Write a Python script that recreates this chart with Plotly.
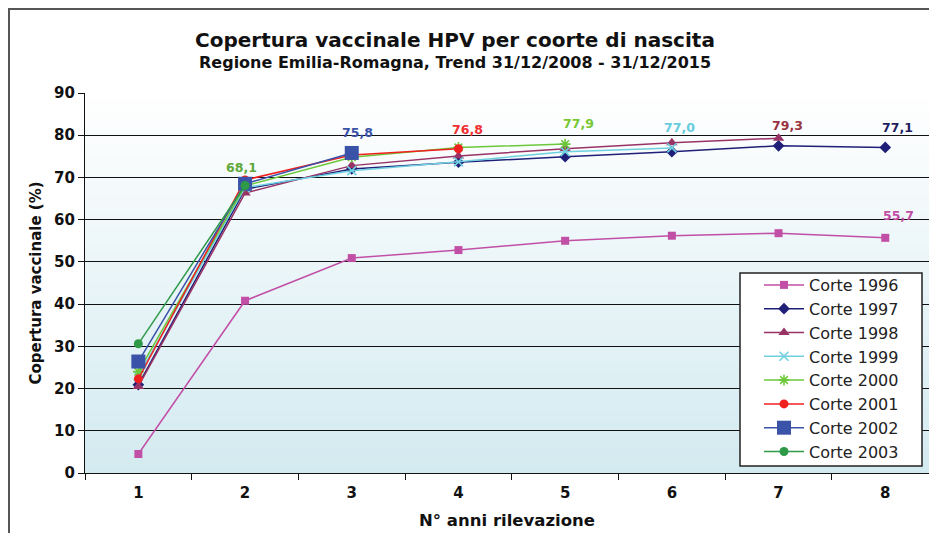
import plotly.graph_objects as go

# ---- data ----
anni = [1, 2, 3, 4, 5, 6, 7, 8]
x_ticklabels = ["1", "2", "3", "4", "5", "6", "7", "8"]
series_names = ["Corte 1996", "Corte 1997", "Corte 1998", "Corte 1999",
                "Corte 2000", "Corte 2001", "Corte 2002", "Corte 2003"]
c1996 = [4.5, 40.8, 50.9, 52.8, 55.0, 56.2, 56.8, 55.7]
c1997 = [20.9, 67.2, 72.0, 73.6, 74.9, 76.1, 77.5, 77.1]
c1998 = [20.5, 66.3, 72.8, 75.1, 76.8, 78.2, 79.3]
c1999 = [23.0, 67.6, 71.6, 73.7, 76.1, 77.0]
c2000 = [24.0, 68.0, 74.8, 77.1, 77.9]
c2001 = [22.3, 69.4, 75.3, 76.8]
c2002 = [26.4, 68.5, 75.8]
c2003 = [30.6, 68.1]
values = [c1996, c1997, c1998, c1999, c2000, c2001, c2002, c2003]

# ---- styles ----
colors = ["#C24FA6", "#1F1F78", "#993366", "#6FD0E0",
          "#6CC83A", "#F02020", "#3A52A8", "#2E9A48"]
label_colors = ["#C24FA6", "#1F1F60", "#993340", "#66CCDD",
                "#77C832", "#F03030", "#3A52A8", "#5EA83A"]
label_dx = [13, 12, 9, 8, 13, 9, 6, -4]
label_dy = [22, 20, 13, 20, 21, 19, 20, 18]
symbols = ["square", "diamond", "triangle-up", "x-thin-open",
           "asterisk-open", "circle", "square", "circle"]
sizes = [8, 9, 10, 9, 9, 9, 14, 9]

FONT = "DejaVu Sans, Verdana, sans-serif"

fig = go.Figure()
for name, vals, col, sym, sz in zip(series_names, values, colors, symbols, sizes):
    fig.add_trace(go.Scatter(
        x=anni[:len(vals)], y=vals, name=name, mode="lines+markers",
        line=dict(color=col, width=1.5),
        marker=dict(symbol=sym, size=sz, color=col,
                    line=dict(color=col, width=1.6 if "open" in sym else 0)),
        legendgroup=name,
    ))

# data labels on last point of each series
ann = []
for vals, lc, dx, dy in zip(values, label_colors, label_dx, label_dy):
    v = vals[-1]
    ann.append(dict(x=anni[len(vals) - 1], y=v, xref="x", yref="y",
                    text=f"{v:.1f}".replace(".", ","), showarrow=False,
                    xanchor="center", yanchor="middle",
                    xshift=dx, yshift=dy,
                    font=dict(family=FONT, size=12.5, color=lc, weight="bold")))

W, H = 929, 533
L, R, T, B = 85, 0, 93, 60
pw, ph = W - L - R, H - T - B
def px(xp): return (xp - L) / pw
def py(yp): return (H - B - yp) / ph

ann.append(dict(x=px(455), y=py(40), xref="paper", yref="paper",
                xanchor="center", yanchor="middle",
                text="Copertura vaccinale HPV per coorte di nascita", showarrow=False,
                font=dict(family=FONT, size=20, color="#111111", weight="bold")))
ann.append(dict(x=px(455), y=py(62), xref="paper", yref="paper",
                xanchor="center", yanchor="middle",
                text="Regione Emilia-Romagna, Trend 31/12/2008 - 31/12/2015", showarrow=False,
                font=dict(family=FONT, size=16, color="#111111", weight="bold")))

# gradient background of the plot area
shapes = []
N = 60
top = (255, 255, 255)
bot = (211, 234, 240)
for i in range(N):
    t = (i + 0.5) / N
    c = tuple(round(top[k] + (bot[k] - top[k]) * t) for k in range(3))
    shapes.append(dict(type="rect", xref="paper", yref="paper", layer="below",
                       x0=0, x1=1, y0=1 - (i + 1) / N, y1=1 - i / N + 0.001,
                       line=dict(width=0), fillcolor=f"rgb{c}"))
# outer frame (left and top)
shapes.append(dict(type="line", xref="paper", yref="paper", x0=px(9), x1=px(9),
                   y0=py(9), y1=py(540), line=dict(color="#555555", width=2)))
shapes.append(dict(type="line", xref="paper", yref="paper", x0=px(8), x1=px(935),
                   y0=py(9), y1=py(9), line=dict(color="#555555", width=2)))
# legend box
shapes.append(dict(type="rect", xref="paper", yref="paper", layer="above",
                   x0=px(740), x1=px(922), y0=py(466), y1=py(273),
                   fillcolor="white", line=dict(color="#222222", width=1.5)))

fig.update_layout(
    width=W, height=H,
    margin=dict(l=L, r=R, t=T, b=B),
    paper_bgcolor="white", plot_bgcolor="rgba(0,0,0,0)",
    font=dict(family=FONT, color="#111111"),
    annotations=ann, shapes=shapes,
    showlegend=True,
    legend=dict(x=px(759), y=py(268), xanchor="left", yanchor="top",
                bgcolor="rgba(0,0,0,0)", borderwidth=0,
                font=dict(family=FONT, size=16, color="#222222"),
                tracegroupgap=0, itemwidth=40),
    xaxis=dict(range=[0.5, 0.5 + pw / 106.7], tickmode="array", tickvals=anni,
               ticktext=x_ticklabels, ticks="", showgrid=False,
               showline=True, linecolor="#111111", linewidth=1.2,
               ticklabelstandoff=6,
               tickfont=dict(family=FONT, size=15, color="#111111", weight="bold"),
               minor=dict(tick0=0.5, dtick=1, ticks="outside", ticklen=6,
                          tickcolor="#111111", tickwidth=1, showgrid=False),
               title=dict(text="N° anni rilevazione", standoff=13,
                          font=dict(family=FONT, size=16.5, color="#111111", weight="bold")),
               zeroline=False, fixedrange=True),
    yaxis=dict(range=[0, 90], tickmode="array", tickvals=list(range(0, 91, 10)),
               showgrid=True, gridcolor="#111111", gridwidth=1,
               showline=True, linecolor="#111111", linewidth=1.2,
               ticks="outside", ticklen=6, tickcolor="#111111",
               tickfont=dict(family=FONT, size=15, color="#111111", weight="bold"),
               title=dict(text="Copertura vaccinale (%)", standoff=8,
                          font=dict(family=FONT, size=15, color="#111111", weight="bold")),
               zeroline=False),
)

fig.write_html("out.html", config={"displayModeBar": False},
               post_script="document.body.style.margin='0';")
